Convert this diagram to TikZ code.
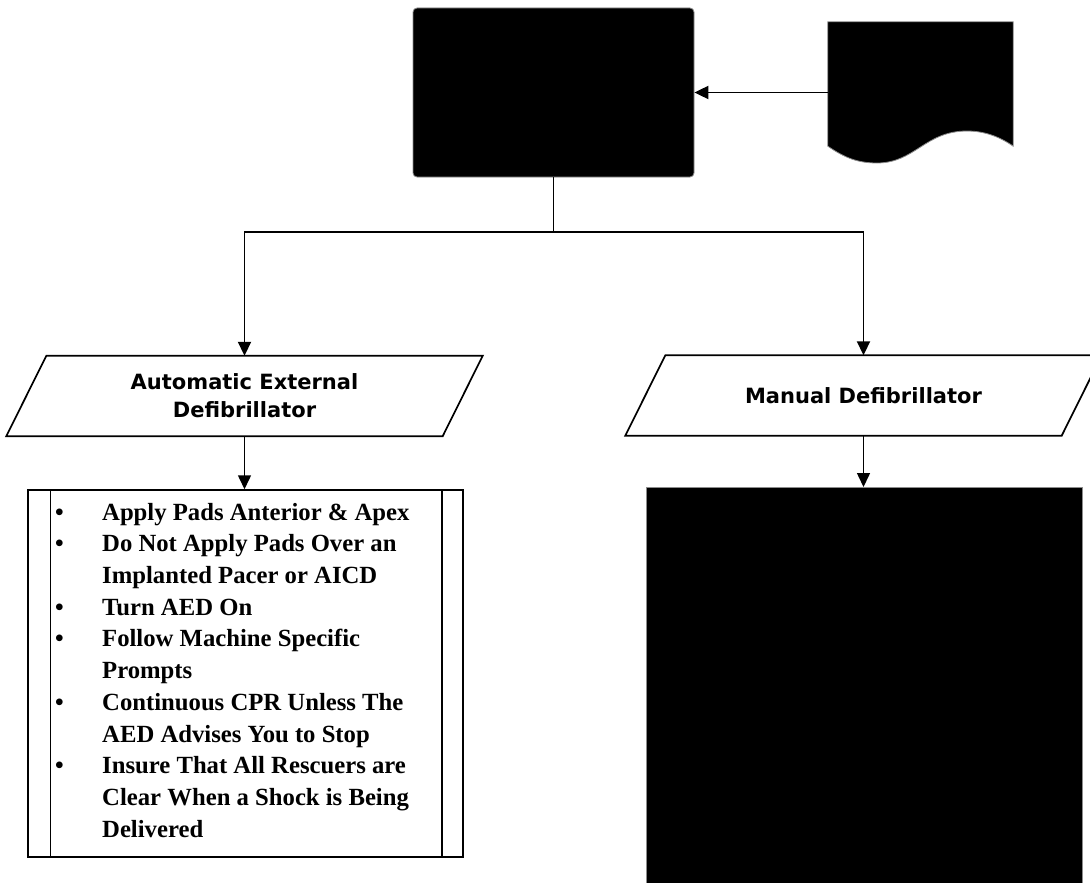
\documentclass[tikz,border=0pt]{standalone}
\usepackage{fontspec}
\setmainfont{Liberation Serif}
\newfontfamily\parafont{DejaVu Sans}
\usetikzlibrary{arrows.meta,calc}
\begin{document}
\begin{tikzpicture}[x=1pt,y=-1pt,
  conn/.style={line width=1.9pt,draw=black},
  arr/.style={conn,-{Triangle[length=14pt,width=13pt]}},
  blackbox/.style={fill=black,draw=black!45,line width=0.8pt,inner sep=0pt},
  paratext/.style={inner sep=0pt,minimum width=436pt,minimum height=80pt,align=center,
    font=\parafont\bfseries\fontsize{21}{28}\selectfont},
  para/.style={line width=1.7pt,draw=black},
  listbox/.style={draw=black,line width=1.5pt,inner sep=0pt},
  listfont/.style={font=\bfseries\fontsize{24.7}{31.7}\selectfont},
]
\useasboundingbox[fill=white] (0,0) rectangle (1090,883);

% top box and document
\node[blackbox,rounded corners=4pt,minimum width=281pt,minimum height=169pt] (top) at (553.5,92.5) {};
\node[inner sep=0pt,minimum width=185pt,minimum height=124pt] (doc) at (920.5,84) {};
\filldraw[fill=black,draw=black!45,line width=0.8pt] (doc.north west) -- (doc.north east) -- (doc.south east)
  .. controls (1000,137) and (985,131) .. (967,131)
  .. controls (925,131) and (915,163) .. (877,163)
  .. controls (858,163) and (845,158) .. (doc.south west) -- cycle;
\draw[arr] (top.east -| doc.west) -- (top.east);

% parallelograms
\node[paratext] (aed) at (244.5,396) {Automatic External\\Defibrillator};
\draw[para] ($(aed.north west)+(20,0)$) -- ($(aed.north east)+(20,0)$) -- ($(aed.south east)+(-20,0)$) -- ($(aed.south west)+(-20,0)$) -- cycle;
\node[paratext] (man) at (863.5,395.5) {Manual Defibrillator};
\draw[para] ($(man.north west)+(20,0)$) -- ($(man.north east)+(20,0)$) -- ($(man.south east)+(-20,0)$) -- ($(man.south west)+(-20,0)$) -- cycle;

% split
\coordinate (split) at (553.5,232);
\draw[conn] (top.south) -- (split);
\draw[arr] (split) -| (aed.north);
\draw[arr] (split) -| (man.north);

% list box
\node[listbox,minimum width=435pt,minimum height=367pt] (list) at (245.5,673.5) {};
\draw[line width=1.5pt] ([xshift=23pt]list.north west) -- ([xshift=23pt]list.south west);
\draw[line width=1.5pt] ([xshift=-22pt]list.north east) -- ([xshift=-22pt]list.south east);
\node[anchor=north west,inner sep=0pt,listfont] (listtext) at (55,497.8) {%
\begin{tabular}{@{}p{47pt}@{}l@{}}
\textbullet & Apply Pads Anterior \& Apex\\
\textbullet & Do Not Apply Pads Over an\\
 & Implanted Pacer or AICD\\
\textbullet & Turn AED On\\
\textbullet & Follow Machine Specific\\
 & Prompts\\
\textbullet & Continuous CPR Unless The\\
 & AED Advises You to Stop\\
\textbullet & Insure That All Rescuers are\\
 & Clear When a Shock is Being\\
 & Delivered
\end{tabular}};
\draw[arr,line width=1.5pt] (aed.south) -- (aed.south |- list.north);

% right black box
\node[blackbox,minimum width=436pt,minimum height=420pt,anchor=north] (manbox) at (864,487) {};
\draw[arr,line width=1.5pt] (man.south) -- (man.south |- manbox.north);
\end{tikzpicture}
\end{document}
